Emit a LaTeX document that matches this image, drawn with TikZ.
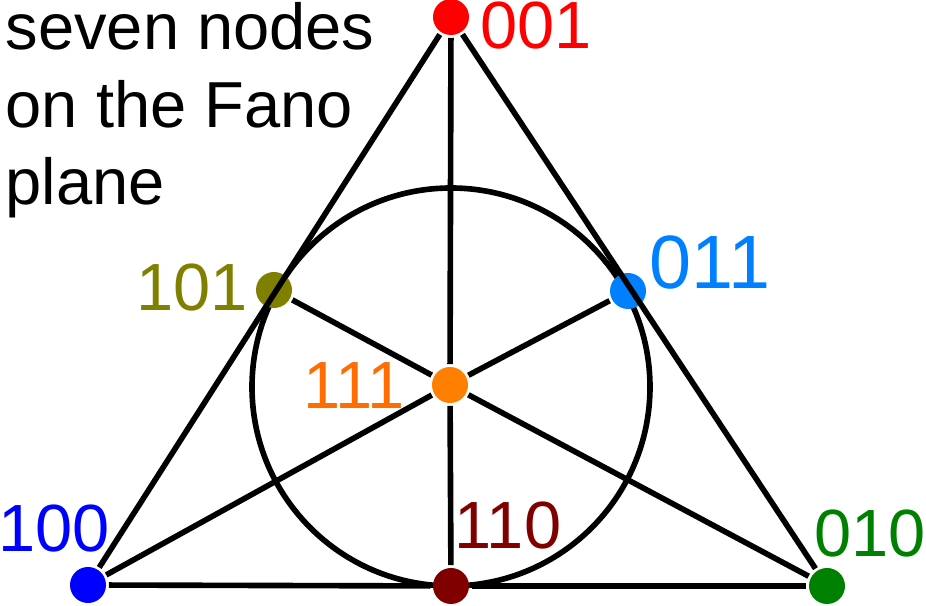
\documentclass[tikz,border=0pt]{standalone}
\usepackage{fontspec}
\setmainfont{Liberation Sans}
\definecolor{olivedot}{RGB}{128,128,0}
\definecolor{azuredot}{RGB}{0,128,255}
\definecolor{orangedot}{RGB}{255,128,0}
\definecolor{orangetext}{RGB}{255,108,0}
\definecolor{greendot}{RGB}{0,128,0}
\definecolor{maroondot}{RGB}{128,0,0}

\begin{document}
\begin{tikzpicture}[line width=1.6pt,
    dot/.style={circle,fill,inner sep=0pt,minimum size=0.36cm},
    lab/.style={inner sep=0pt,font=\fontsize{19}{22}\selectfont}]
            \useasboundingbox (0,0) rectangle (9.26,6.06);
            \draw (4.51,2.19) circle (1.99);
            \node[dot,red] (A) at (4.51, 5.89) {};
            \node[dot,olivedot] (B) at (2.74, 3.16) {};
            \node[dot,azuredot] (C) at (6.28, 3.15) {};
            \node[dot,orangedot] (D) at (4.50, 2.21) {};
            \node[dot,blue] (E) at (0.88, 0.21) {};
            \node[dot,maroondot] (F) at (4.51, 0.20) {};
            \node[dot,greendot] (G) at (8.27, 0.20) {};
            \node[lab,red] (a) at (5.36, 5.80) {001};
            \node[lab,olivedot] (b) at (1.92, 3.18) {101};
            \node[lab,azuredot,font=\fontsize{21.5}{24}\selectfont] (c) at (7.10, 3.44) {011};
            \node[lab,orangetext] (d) at (3.54, 2.20) {111};
            \node[lab,blue] (e) at (0.54, 0.77) {100};
            \node[lab,maroondot] (f) at (5.08, 0.80) {110};
            \node[lab,greendot] (g) at (8.70, 0.72) {010};
            \node[anchor=north west,align=left,inner sep=0pt,font=\fontsize{18.5}{22}\selectfont] (T) at (0.03, 6.06) {seven nodes\\on the Fano\\plane};
            \draw (E) to (A);
            \draw (A) to (G);
            \draw (E) to (F);
            \draw (F) to (G);
            \draw (A) to (D);
            \draw (D) to (F);
            \draw (B) to (D);
            \draw (D) to (G);
            \draw (E) to (D);
            \draw (D) to (C);
        \end{tikzpicture}
\end{document}
